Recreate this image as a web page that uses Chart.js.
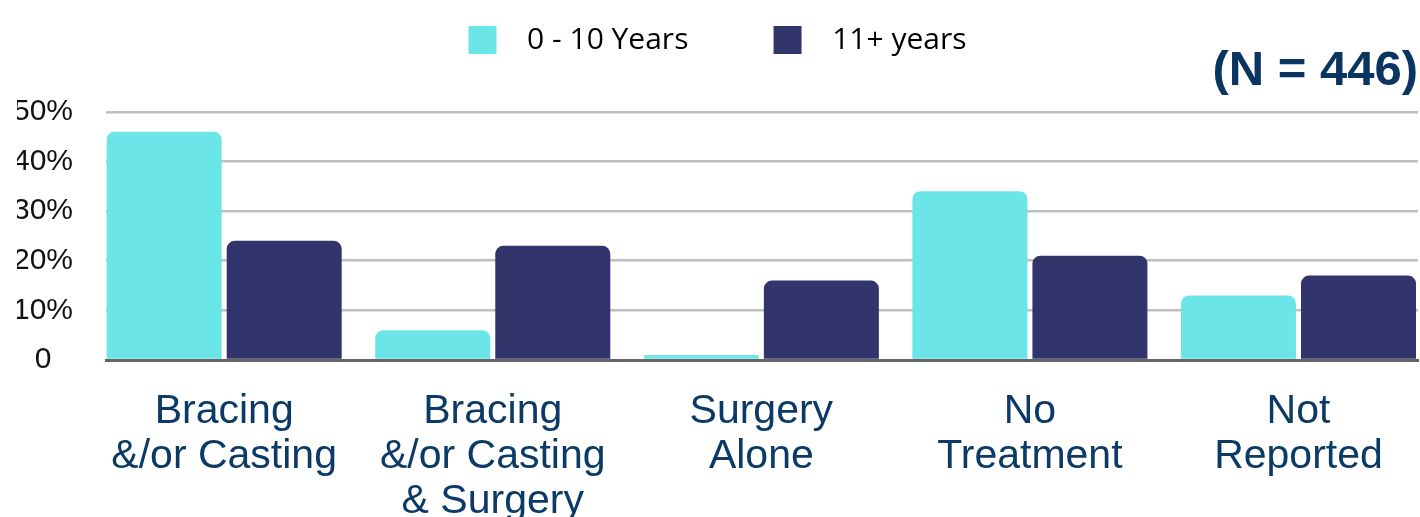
<!DOCTYPE html>
<html>
<head>
<meta charset="utf-8">
<script src="https://cdn.jsdelivr.net/npm/chart.js@4/dist/chart.umd.min.js"></script>
<style>
  html, body { margin: 0; padding: 0; background: #fff; }
  #wrap { width: 1420px; height: 517px; position: relative; }
</style>
</head>
<body>
<div id="wrap"><canvas id="treatment-chart"></canvas></div>
<script>
const categories = [
    ['Bracing', '&/or Casting'],
    ['Bracing', '&/or Casting', '& Surgery'],
    ['Surgery', 'Alone'],
    ['No', 'Treatment'],
    ['Not', 'Reported']
];
const youngValues = [46, 6, 1, 34, 13];
const olderValues = [24, 23, 16, 21, 17];
const seriesLabels = ['0 - 10 Years', '11+ years'];
const yTicks = [0, 10, 20, 30, 40, 50];
const sampleText = '(N = 446)';

const treatmentData = {
    labels: categories,
    datasets: [
        {
            label: seriesLabels[0],
            backgroundColor: '#6be5e8',
            data: youngValues,
        },
        {
            label: seriesLabels[1],
            backgroundColor: '#32356c',
            data: olderValues,
        },
    ]
};

const treatmentConfig = {
    type: 'bar',
    data: treatmentData,
    options: {
        responsive: true,
        maintainAspectRatio: false,
        animation: false,
        layout: {
            padding: { top: 10, left: 17, right: 2, bottom: 0 }
        },
        datasets: {
            bar: {
                borderRadius: 8,
                borderWidth: 0,
                categoryPercentage: 0.894,
                barPercentage: 0.958,
            }
        },
        plugins: {
            legend: {
                position: 'top',
                labels: {
                    boxWidth: 28,
                    boxHeight: 28,
                    padding: 15,
                    useBorderRadius: true,
                    borderRadius: 3,
                    color: '#404040',
                    font: { family: 'Open Sans', size: 30 },
                    // spacing done with blanks, the legend has no gap option
                    generateLabels: chart => chart.data.datasets.map((ds, i) => ({
                        text: i === 0 ? '  ' + ds.label + '         ' : '  ' + ds.label,
                        fillStyle: ds.backgroundColor,
                        strokeStyle: ds.backgroundColor,
                        lineWidth: 0,
                        hidden: false,
                        datasetIndex: i,
                    })),
                }
            },
            title: {
                display: true,
                text: sampleText,
                align: 'end',
                weight: 500,
                color: '#0a3561',
                font: { family: 'Liberation Sans', size: 49, weight: 'bold', lineHeight: 1.2 },
                padding: { top: -23, bottom: 11 }
            },
            tooltip: { enabled: false }
        },
        scales: {
            x: {
                grid: { display: false },
                border: { display: true, color: '#666666', width: 3 },
                ticks: {
                    color: '#0b3a67',
                    padding: 21,
                    maxRotation: 0,
                    autoSkip: false,
                    font: { family: 'Liberation Sans', size: 41, lineHeight: 1.1 }
                },
                afterFit: s => { s.height = 157; },
                // groups in the picture are spaced a bit wider than the plot area
                afterBuildTicks: s => { s._startValue = -0.44; s._valueRange = 4.885; }
            },
            y: {
                min: 0,
                max: 50,
                border: { display: false },
                grid: {
                    drawTicks: false,
                    lineWidth: 2.5,
                    color: c => c.tick && c.tick.value === 0 ? 'rgba(0,0,0,0)' : '#bfbfbf'
                },
                afterBuildTicks: s => { s.ticks = yTicks.map(v => ({ value: v })); },
                afterFit: s => { s.width = 89; },
                ticks: {
                    color: '#111111',
                    padding: 33,
                    crossAlign: 'center',
                    font: { family: 'Liberation Sans', size: 30 },
                    callback: v => v === 0 ? '0' : v + '%'
                }
            }
        }
    }
};

const treatmentChart = new Chart(
    document.getElementById('treatment-chart'),
    treatmentConfig
);
</script>
</body>
</html>
